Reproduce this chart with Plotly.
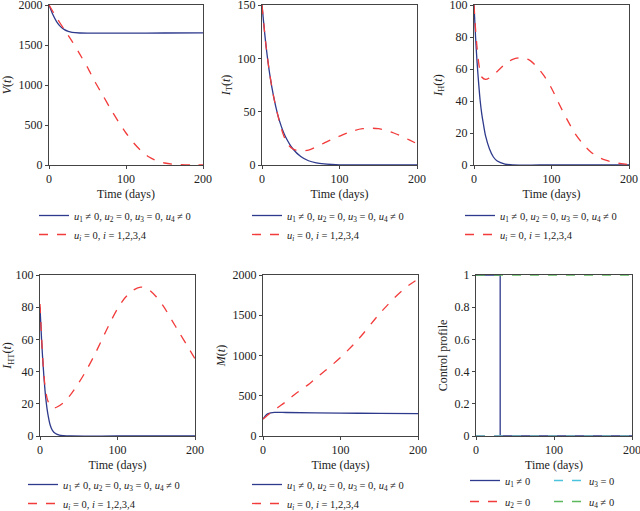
import plotly.graph_objects as go

# ---------------- data ----------------
# Panel 1: V(t)
t_v_blue = [0, 5, 10, 15, 20, 25, 30, 40, 50, 60, 80, 100, 150, 200]
v_blue = [2000, 1880, 1790, 1730, 1692, 1670, 1658, 1650, 1648, 1648, 1648, 1649, 1650, 1652]
t_v_red = [0, 10, 20, 30, 40, 50, 60, 70, 80, 90, 100, 110, 120, 130, 140, 150, 160, 170, 185, 200]
v_red = [2000, 1840, 1690, 1545, 1385, 1220, 1035, 870, 700, 545, 400, 275, 175, 100, 52, 25, 11, 5, 1, 0]

# Panel 2: I_T(t)
t_it_blue = [0, 5, 10, 15, 20, 25, 30, 40, 50, 60, 70, 80, 90, 100, 150, 200]
it_blue = [150, 113, 85, 64, 48, 36, 27, 15, 8, 4, 2, 1, 0.5, 0.2, 0, 0]
t_it_red = [0, 5, 10, 15, 20, 25, 30, 35, 40, 50, 60, 70, 80, 90, 100, 110, 120, 130, 140, 150, 160, 170, 180, 190, 200]
it_red = [150, 113, 85, 64, 48, 34, 24, 18, 15, 13, 14, 17, 20.5, 24, 27, 30, 32.5, 34, 34.5, 34, 32.5, 30, 27, 23.5, 20]

# Panel 3: I_H(t)
t_ih_blue = [0, 2, 4, 6, 8, 10, 12, 15, 20, 25, 30, 40, 50, 100, 200]
ih_blue = [100, 80, 64, 51, 40, 32, 26, 18, 10, 5, 2.5, 0.6, 0.1, 0, 0]
t_ih_red = [0, 2, 4, 6, 8, 10, 15, 20, 30, 40, 50, 60, 70, 80, 90, 100, 110, 120, 130, 140, 150, 160, 170, 180, 190, 200]
ih_red = [100, 85, 73, 64, 58, 55, 53.5, 54.5, 58.5, 63, 66, 67, 66, 62, 56, 48, 38, 28.5, 20, 13.5, 8.5, 5, 3, 1.7, 0.8, 0.3]

# Panel 4: I_HT(t)
t_iht_blue = [0, 2, 4, 6, 8, 10, 13, 16, 20, 25, 30, 40, 100, 200]
iht_blue = [80, 60, 44, 31, 21, 14, 7, 3.5, 1.5, 0.5, 0.2, 0, 0, 0]
t_iht_red = [0, 2, 4, 6, 8, 10, 13, 18, 22, 30, 40, 50, 60, 70, 80, 90, 100, 110, 120, 130, 140, 150, 160, 170, 180, 190, 200]
iht_red = [82, 62, 45, 33, 26, 22, 19, 17.5, 18, 20.5, 26, 33, 41, 50, 60, 70, 79, 86, 90.5, 92.5, 91, 86.5, 80, 72, 64, 56, 48]

# Panel 5: M(t)
t_m_blue = [0, 3, 6, 10, 15, 30, 100, 150, 200]
m_blue = [210, 250, 275, 288, 293, 292, 285, 280, 278]
t_m_red = [0, 10, 20, 30, 40, 50, 60, 70, 80, 90, 100, 110, 120, 130, 140, 150, 160, 170, 180, 190, 200]
m_red = [210, 290, 360, 430, 510, 580, 650, 730, 810, 890, 975, 1070, 1170, 1280, 1400, 1515, 1620, 1720, 1810, 1885, 1950]

# Panel 6: control profile
t_u1 = [0, 31, 31, 200]
u1 = [1, 1, 0, 0]
t_u2 = [0, 200]
u2 = [0, 0]
t_u3 = [0, 200]
u3 = [0, 0]
t_u4 = [0, 200]
u4 = [1, 1]

# ---------------- labels ----------------
lab_ctrl = "<i>u</i><sub>1</sub> ≠ 0, <i>u</i><sub>2</sub> = 0, <i>u</i><sub>3</sub> = 0, <i>u</i><sub>4</sub> ≠ 0"
lab_none = "<i>u</i><sub><i>i</i></sub> = 0, <i>i</i> = 1,2,3,4"
ylabels = ["<i>V</i>(<i>t</i>)", "<i>I</i><sub>T</sub>(<i>t</i>)", "<i>I</i><sub>H</sub>(<i>t</i>)",
           "<i>I</i><sub>HT</sub>(<i>t</i>)", "<i>M</i>(<i>t</i>)", "Control profile"]

BLUE = "#2e3a8c"
RED = "#f23b3b"
CYAN = "#4cc3dc"
GREEN = "#5cb85c"
FONT = "Liberation Serif"
W, H = 640, 511
LFS = 10.5

# panel pixel boxes: (x0, x1, ytop, ybottom)
boxes = [(49, 203, 5, 165), (262, 417, 5, 165), (474, 629, 5, 165),
         (40, 195, 275, 436), (263, 418, 275, 436), (476, 632, 275, 436)]
yranges = [[0, 2000], [0, 150], [0, 100], [0, 100], [0, 2000], [0, 1]]
ytickvals = [[0, 500, 1000, 1500, 2000], [0, 50, 100, 150], [0, 20, 40, 60, 80, 100],
             [0, 20, 40, 60, 80, 100], [0, 500, 1000, 1500, 2000], [0, 0.2, 0.4, 0.6, 0.8, 1]]
yticktext = [None, None, None, None, None, ["0", "0.2", "0.4", "0.6", "0.8", "1"]]

fig = go.Figure()

pairs = [
    (t_v_blue, v_blue, t_v_red, v_red),
    (t_it_blue, it_blue, t_it_red, it_red),
    (t_ih_blue, ih_blue, t_ih_red, ih_red),
    (t_iht_blue, iht_blue, t_iht_red, iht_red),
    (t_m_blue, m_blue, t_m_red, m_red),
]

for i, (tb, yb, tr, yr) in enumerate(pairs):
    k = i + 1
    xa = "x" if k == 1 else f"x{k}"
    ya = "y" if k == 1 else f"y{k}"
    lg = "legend" if k == 1 else f"legend{k}"
    fig.add_trace(go.Scatter(x=tb, y=yb, mode="lines", name=lab_ctrl,
                             line=dict(color=BLUE, width=1.3, shape="spline", smoothing=0.8),
                             xaxis=xa, yaxis=ya, legend=lg))
    fig.add_trace(go.Scatter(x=tr, y=yr, mode="lines", name=lab_none,
                             line=dict(color=RED, width=1.3, dash="dash", shape="spline", smoothing=0.8),
                             xaxis=xa, yaxis=ya, legend=lg))

# control profile panel: two legends side by side (u1, u2) and (u3, u4)
fig.add_trace(go.Scatter(x=t_u1, y=u1, mode="lines", name="<i>u</i><sub>1</sub> ≠ 0",
                         line=dict(color=BLUE, width=1.3), xaxis="x6", yaxis="y6",
                         legend="legend6", legendgroup="a"))
fig.add_trace(go.Scatter(x=t_u2, y=u2, mode="lines", name="<i>u</i><sub>2</sub> = 0",
                         line=dict(color=RED, width=1.3, dash="dash"), xaxis="x6", yaxis="y6",
                         legend="legend6", legendgroup="b"))
fig.add_trace(go.Scatter(x=t_u3, y=u3, mode="lines", name="<i>u</i><sub>3</sub> = 0",
                         line=dict(color=CYAN, width=1.3, dash="dash"), xaxis="x6", yaxis="y6",
                         legend="legend7", legendgroup="c"))
fig.add_trace(go.Scatter(x=t_u4, y=u4, mode="lines", name="<i>u</i><sub>4</sub> ≠ 0",
                         line=dict(color=GREEN, width=1.3, dash="dash"), xaxis="x6", yaxis="y6",
                         legend="legend7", legendgroup="d"))

layout = dict(width=W, height=H, margin=dict(l=0, r=0, t=0, b=0, autoexpand=False),
              paper_bgcolor="white", plot_bgcolor="white",
              font=dict(family=FONT, size=12, color="#222"))

for i, (x0, x1, yt, yb) in enumerate(boxes):
    k = i + 1
    xk = "xaxis" if k == 1 else f"xaxis{k}"
    yk = "yaxis" if k == 1 else f"yaxis{k}"
    anchor_x = "y" if k == 1 else f"y{k}"
    anchor_y = "x" if k == 1 else f"x{k}"
    layout[xk] = dict(domain=[x0 / W, x1 / W], anchor=anchor_x, range=[0, 200],
                      tickvals=[0, 100, 200], ticks="outside", ticklen=3, tickcolor="#444",
                      showline=True, linecolor="#444", linewidth=1, mirror=True,
                      showgrid=False, zeroline=False, ticklabeloverflow="allow",
                      title=dict(text="Time (days)", font=dict(family=FONT, size=12), standoff=4),
                      tickfont=dict(family=FONT, size=12))
    yd = dict(domain=[1 - yb / H, 1 - yt / H], anchor=anchor_y, range=yranges[i],
              tickvals=ytickvals[i], ticks="outside", ticklen=3, tickcolor="#444",
              showline=True, linecolor="#444", linewidth=1, mirror=True,
              showgrid=False, zeroline=False, ticklabeloverflow="allow",
              title=dict(text=ylabels[i], font=dict(family=FONT, size=12), standoff=4),
              tickfont=dict(family=FONT, size=12))
    if yticktext[i] is not None:
        yd["ticktext"] = yticktext[i]
    layout[yk] = yd

legpos = [(34, 201), (247, 201), (460, 201), (23, 470), (247, 470)]
for i, (lx, ly) in enumerate(legpos):
    k = i + 1
    key = "legend" if k == 1 else f"legend{k}"
    layout[key] = dict(x=lx / W, y=1 - ly / H, xanchor="left", yanchor="top",
                       bgcolor="rgba(0,0,0,0)", font=dict(family=FONT, size=LFS),
                       tracegroupgap=0, itemwidth=30)
layout["legend6"] = dict(x=465 / W, y=1 - 466 / H, xanchor="left", yanchor="top",
                         bgcolor="rgba(0,0,0,0)", font=dict(family=FONT, size=LFS),
                         tracegroupgap=2, itemwidth=30)
layout["legend7"] = dict(x=549 / W, y=1 - 466 / H, xanchor="left", yanchor="top",
                         bgcolor="rgba(0,0,0,0)", font=dict(family=FONT, size=LFS),
                         tracegroupgap=2, itemwidth=30)

fig.update_layout(**layout)
fig.write_html("out.html", config={"displayModeBar": False},
               post_script="document.body.style.margin='0px';")
